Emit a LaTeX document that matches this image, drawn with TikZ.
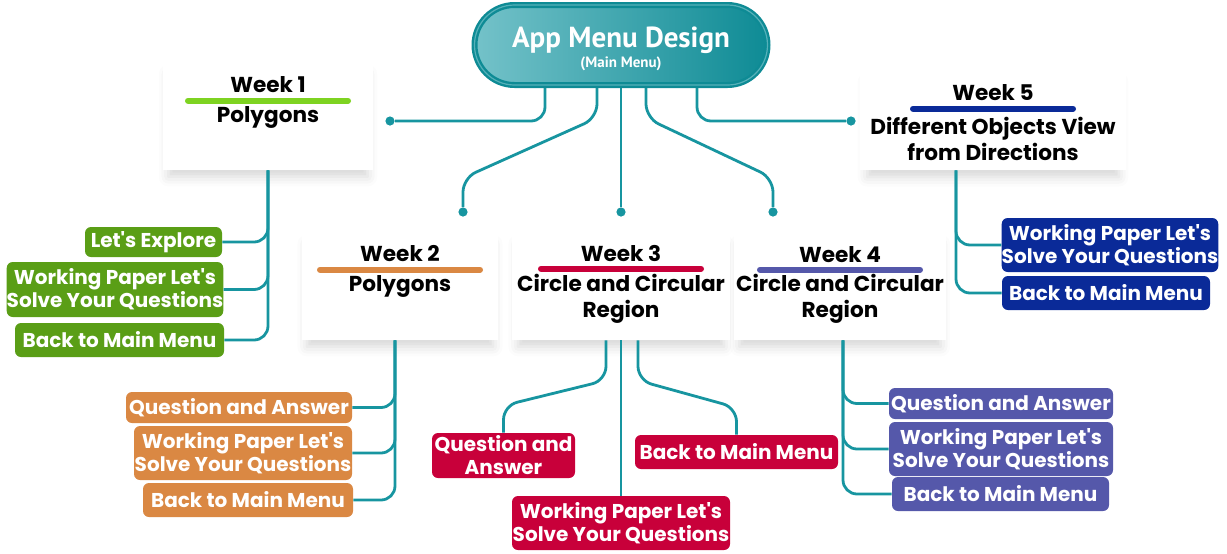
\documentclass[tikz,border=0pt]{standalone}
\usepackage{fontspec}
\setmainfont{Poppins}
\newfontfamily\titlefont{PT Sans}
\usetikzlibrary{calc,positioning,shadows.blur}

\definecolor{tealline}{HTML}{1795A0}
\definecolor{pilllight}{HTML}{74C2C9}
\definecolor{pilldark}{HTML}{0E8B95}
\definecolor{wkgreen}{HTML}{5A9E16}
\definecolor{wklime}{HTML}{7ED321}
\definecolor{wkorange}{HTML}{DA8843}
\definecolor{wkred}{HTML}{C8003A}
\definecolor{wkpurple}{HTML}{5558AA}
\definecolor{wkblue}{HTML}{0A2A98}

\begin{document}
\begin{tikzpicture}[x=0.5pt, y=-0.5pt,
    card/.style={fill=white, inner sep=0pt, blur shadow={shadow xshift=0pt,
      shadow yshift=-5pt, shadow scale=0.95,
      shadow blur radius=5pt, shadow opacity=16}},
    wkhead/.style={font=\bfseries\fontsize{10.8}{12}\selectfont, inner sep=0pt},
    wksub/.style={font=\bfseries\fontsize{10.8}{13}\selectfont, align=center,
      inner sep=0pt},
    bar/.style={line width=3pt, line cap=round},
    menubox/.style={rounded corners=3pt, text=white, inner sep=0pt, align=center,
      font=\bfseries\fontsize{10}{11.5}\selectfont},
    link/.style={tealline, line width=1.4pt, rounded corners=7pt},
    dot/.style={circle, fill=tealline, inner sep=0pt, minimum size=4.6pt}
  ]
  \useasboundingbox (0,0) rectangle (1227,553);

  % --- Week cards ---
  \node[card, minimum width=105pt, minimum height=54pt] (w1) at (268,116) {};
  \node[card, minimum width=98pt, minimum height=54pt] (w2) at (400,286) {};
  \node[card, minimum width=108.5pt, minimum height=54pt] (w3) at (621,286) {};
  \node[card, minimum width=106pt, minimum height=54pt] (w4) at (840,286) {};
  \node[card, minimum width=132.5pt, minimum height=50pt] (w5) at (993,120) {};
  \foreach \w in {w1,w2,w3,w4,w5}
    \fill[white] (\w.south west) rectangle (\w.north east);

  % --- Card texts ---
  \node[wkhead] (w1h) at ($(w1.north)+(0,23)$) {Week 1};
  \draw[bar, wklime] ($(w1.north)+(-80,39)$) -- ($(w1.north)+(80,39)$);
  \node[wksub] (w1s) at ($(w1.north)+(0,56)$) {Polygons};

  \node[wkhead] (w2h) at ($(w2.north)+(0,22)$) {Week 2};
  \draw[bar, wkorange] ($(w2.north)+(-80,38)$) -- ($(w2.north)+(80,38)$);
  \node[wksub] (w2s) at ($(w2.north)+(0,55)$) {Polygons};

  \node[wkhead] (w3h) at ($(w3.north)+(0,22)$) {Week 3};
  \draw[bar, wkred] ($(w3.north)+(-80,37)$) -- ($(w3.north)+(80,37)$);
  \node[wksub] (w3s) at ($(w3.north)+(0,67)$) {Circle and Circular\\Region};

  \node[wkhead] (w4h) at ($(w4.north)+(0,23)$) {Week 4};
  \draw[bar, wkpurple] ($(w4.north)+(-80,38)$) -- ($(w4.north)+(80,38)$);
  \node[wksub] (w4s) at ($(w4.north)+(0,67)$) {Circle and Circular\\Region};

  \node[wkhead] (w5h) at ($(w5.north)+(0,23)$) {Week 5};
  \draw[bar, wkblue] ($(w5.north)+(-80,39)$) -- ($(w5.north)+(80,39)$);
  \node[wksub] (w5s) at ($(w5.north)+(0,69)$) {Different Objects View\\from Directions};

  % --- Menu boxes ---
  \node[menubox, fill=wkgreen, minimum width=68.5pt, minimum height=15pt] (g1) at (153.5,242) {Let\textquotesingle s Explore};
  \node[menubox, fill=wkgreen, minimum width=107pt, minimum height=27.5pt] (g2) at (115,289.5) {Working Paper Let\textquotesingle s\\Solve Your Questions};
  \node[menubox, fill=wkgreen, minimum width=104.5pt, minimum height=17pt] (g3) at (119.5,340) {Back to Main Menu};

  \node[menubox, fill=wkorange, minimum width=113pt, minimum height=15.5pt] (o1) at (239,407.5) {Question and Answer};
  \node[menubox, fill=wkorange, minimum width=109pt, minimum height=27pt] (o2) at (243,453) {Working Paper Let\textquotesingle s\\Solve Your Questions};
  \node[menubox, fill=wkorange, minimum width=105pt, minimum height=17pt] (o3) at (248,500) {Back to Main Menu};

  \node[menubox, fill=wkred, minimum width=71.5pt, minimum height=22.5pt] (r1) at (503.5,455.5) {Question and\\Answer};
  \node[menubox, fill=wkred, minimum width=101.5pt, minimum height=17pt] (r2) at (736.5,452) {Back to Main Menu};
  \node[menubox, fill=wkred, minimum width=109pt, minimum height=27pt] (r3) at (621,523) {Working Paper Let\textquotesingle s\\Solve Your Questions};

  \node[menubox, fill=wkpurple, minimum width=112pt, minimum height=15.5pt] (p1) at (1001,403.5) {Question and Answer};
  \node[menubox, fill=wkpurple, minimum width=112pt, minimum height=27pt] (p2) at (1001,449) {Working Paper Let\textquotesingle s\\Solve Your Questions};
  \node[menubox, fill=wkpurple, minimum width=108.5pt, minimum height=17pt] (p3) at (1000.5,494) {Back to Main Menu};

  \node[menubox, fill=wkblue, minimum width=108pt, minimum height=27pt] (b1) at (1110,245) {Working Paper Let\textquotesingle s\\Solve Your Questions};
  \node[menubox, fill=wkblue, minimum width=104pt, minimum height=17pt] (b2) at (1106,293) {Back to Main Menu};

  % --- Branches below the cards ---
  \draw[link] (w1.south) |- (g1.east);
  \draw[link] (w1.south) |- (g2.east);
  \draw[link] (w1.south) |- (g3.east);

  \draw[link] ($(w2.south)+(-5,0)$) |- (o1.east);
  \draw[link] ($(w2.south)+(-5,0)$) |- (o2.east);
  \draw[link] ($(w2.south)+(-5,0)$) |- (o3.east);

  \draw[link] ($(w3.south)+(-15,0)$) -- ++(0,40) -- ($(r1.north)+(0,-27)$) -- (r1.north);
  \draw[link] (w3.south) -- (r3.north);
  \draw[link] ($(w3.south)+(17,0)$) -- ++(0,40) -- ($(r2.north)+(0,-27)$) -- (r2.north);

  \draw[link] ($(w4.south)+(3,0)$) |- (p1.west);
  \draw[link] ($(w4.south)+(3,0)$) |- (p2.west);
  \draw[link] ($(w4.south)+(3,0)$) |- (p3.west);

  \draw[link] ($(w5.south)+(-37,0)$) |- (b1.west);
  \draw[link] ($(w5.south)+(-37,0)$) |- (b2.west);

  % --- Main menu and its branches ---
  \coordinate (top) at (621,85);
  \node[dot] (d1) at (390,121) {};
  \node[dot] (d2) at (463,212) {};
  \node[dot] (d3) at (621,212) {};
  \node[dot] (d4) at (773,212) {};
  \node[dot] (d5) at (851,121) {};
  \draw[link] ($(top)+(-76,0)$) |- (d1);
  \draw[link] ($(top)+(-24,0)$) -- ++(0,33) -- ($(d2)+(0,-34)$) -- (d2);
  \draw[link] (top) -- (d3);
  \draw[link] ($(top)+(25,0)$) -- ++(0,33) -- ($(d4)+(0,-34)$) -- (d4);
  \draw[link] ($(top)+(76,0)$) |- (d5);

  \node[rounded corners=20pt, minimum width=146.5pt, minimum height=40pt,
    left color=pilllight, right color=pilldark, draw=pilldark, line width=1.2pt,
    double=pilllight!70!pilldark, double distance=0.6pt, text=white, align=center,
    inner sep=0pt, font=\titlefont\bfseries] (title) at (621,45)
    {\rule{0pt}{14pt}{\fontsize{14.5}{15}\selectfont App Menu Design}\\[-2pt]{\fontsize{7.5}{8}\selectfont (Main Menu)}};
\end{tikzpicture}
\end{document}
